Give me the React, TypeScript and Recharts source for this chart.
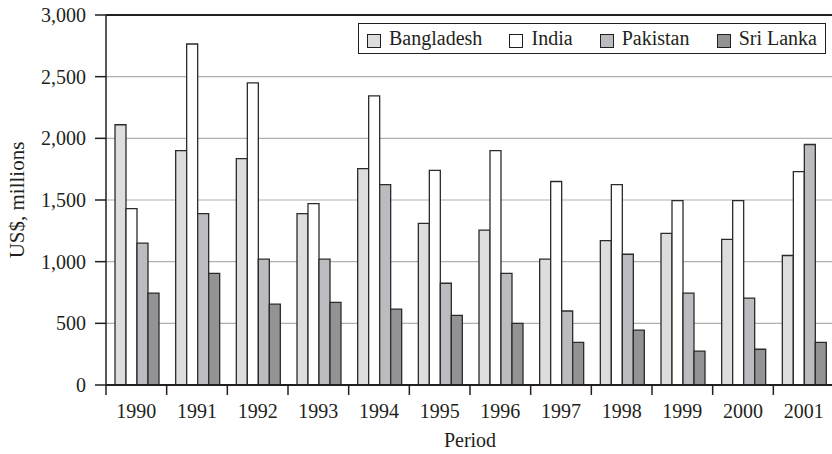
import React from 'react';
import {
  BarChart,
  Bar,
  XAxis,
  YAxis,
  CartesianGrid,
  Legend,
  ReferenceLine,
} from 'recharts';

const years = ['1990', '1991', '1992', '1993', '1994', '1995', '1996', '1997', '1998', '1999', '2000', '2001'];
const bangladesh = [2110, 1900, 1835, 1390, 1755, 1310, 1255, 1020, 1170, 1230, 1180, 1050];
const india = [1430, 2765, 2450, 1470, 2345, 1740, 1900, 1650, 1625, 1495, 1495, 1730];
const pakistan = [1150, 1390, 1020, 1020, 1625, 825, 905, 600, 1060, 745, 705, 1950];
const sriLanka = [745, 905, 655, 670, 615, 565, 500, 345, 445, 275, 290, 345];
const yTicks = [0, 500, 1000, 1500, 2000, 2500, 3000];

const series = [
  { key: 'bangladesh', name: 'Bangladesh', fill: '#dcdddf' },
  { key: 'india', name: 'India', fill: '#ffffff' },
  { key: 'pakistan', name: 'Pakistan', fill: '#bbbcbf' },
  { key: 'sriLanka', name: 'Sri Lanka', fill: '#939396' },
];

const data = years.map((year, i) => ({
  year,
  bangladesh: bangladesh[i],
  india: india[i],
  pakistan: pakistan[i],
  sriLanka: sriLanka[i],
}));

const FONT = "'Liberation Serif', 'Times New Roman', serif";
const INK = '#231f20';

const YearTick = (props: any) => {
  const { x, y, payload } = props;
  const half = payload && typeof payload.offset === 'number' ? payload.offset : 30.3;
  return (
    <g>
      <line x1={x - half} x2={x - half} y1={y} y2={y + 10} stroke={INK} strokeWidth={1.5} />
      <text x={x} y={y + 33} textAnchor="middle" fill={INK} fontSize={20} fontFamily={FONT}>
        {payload.value}
      </text>
    </g>
  );
};

const LegendBox = () => (
  <div
    style={{
      boxSizing: 'border-box',
      width: 468,
      height: 31,
      border: `1.5px solid ${INK}`,
      background: '#fff',
      display: 'flex',
      alignItems: 'center',
      justifyContent: 'space-between',
      padding: '0 8px',
      fontFamily: FONT,
      fontSize: 20,
      color: INK,
    }}
  >
    {series.map((s) => (
      <div key={s.key} style={{ display: 'flex', alignItems: 'center' }}>
        <div
          style={{
            boxSizing: 'border-box',
            width: 14,
            height: 14,
            marginTop: 5,
            marginRight: 8,
            background: s.fill,
            border: `1.5px solid ${INK}`,
          }}
        />
        <span>{s.name}</span>
      </div>
    ))}
  </div>
);

export default function App() {
  return (
    <div style={{ position: 'absolute', left: 0, top: 0, background: '#fff' }}>
      <BarChart
        width={832}
        height={454}
        data={data}
        margin={{ top: 15, right: -2, bottom: 0, left: 0 }}
        barCategoryGap={9}
        barGap={0}
      >
        <CartesianGrid vertical={false} stroke="#b0b0b0" strokeWidth={1.2} />
        <XAxis
          dataKey="year"
          height={69}
          tickSize={0}
          tickMargin={0}
          tickLine={false}
          tick={<YearTick />}
          axisLine={{ stroke: INK, strokeWidth: 2 }}
          interval={0}
          label={{
            value: 'Period',
            position: 'insideBottom',
            offset: 7,
            fill: INK,
            fontSize: 20,
            fontFamily: FONT,
          }}
        />
        <YAxis
          width={106}
          domain={[0, 3000]}
          ticks={yTicks}
          tickSize={11}
          tickMargin={9}
          tickLine={{ stroke: INK, strokeWidth: 1.5 }}
          axisLine={{ stroke: INK, strokeWidth: 1.5 }}
          tick={{ fill: INK, fontSize: 20, fontFamily: FONT }}
          tickFormatter={(v: number) => v.toLocaleString('en-US')}
          label={{
            value: 'US$, millions',
            angle: -90,
            position: 'center',
            dx: -36.5,
            fill: INK,
            fontSize: 21,
            fontFamily: FONT,
          }}
        />
        <ReferenceLine y={3000} stroke={INK} strokeWidth={2} />
        <Legend
          layout="horizontal"
          verticalAlign="middle"
          align="center"
          wrapperStyle={{ position: 'absolute', left: 358, top: 23, width: 468, height: 31 }}
          content={() => <LegendBox />}
        />
        {series.map((s) => (
          <Bar
            key={s.key}
            dataKey={s.key}
            name={s.name}
            fill={s.fill}
            stroke="#2b2b2b"
            strokeWidth={1.3}
            isAnimationActive={false}
          />
        ))}
      </BarChart>
    </div>
  );
}
